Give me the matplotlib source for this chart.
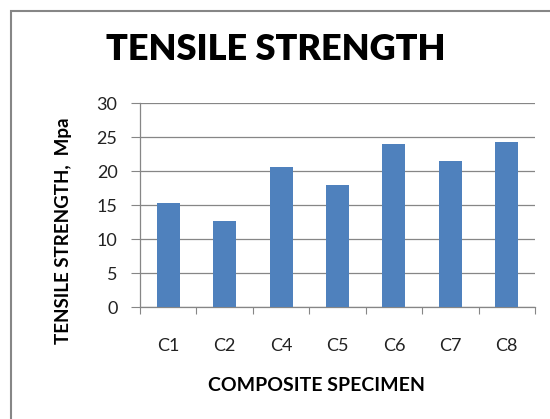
import matplotlib.pyplot as plt
from matplotlib.patches import Rectangle

# tensile strength per composite specimen
specimens = ["C1", "C2", "C4", "C5", "C6", "C7", "C8"]
strength = [15.3, 12.6, 20.6, 17.9, 23.9, 21.5, 24.2]
y_ticks = [0, 5, 10, 15, 20, 25, 30]

plt.rcParams['font.family'] = ['Lato', 'DejaVu Sans']
grey = "#868686"

fig = plt.figure(figsize=(5.5, 4.19), dpi=100)
ax = fig.add_axes([140 / 550, 1 - 307 / 419, 395 / 550, 204 / 419])

x = range(len(specimens))
ax.bar(x, strength, width=0.41, color="#4F81BD", zorder=3)

ax.set_xlim(-0.5, len(specimens) - 0.5)
ax.set_ylim(0, 30)
ax.set_yticks(y_ticks)
ax.set_yticklabels([str(v) for v in y_ticks], fontsize=13, color="#222222")
ax.set_xticks(list(x))
ax.set_xticklabels(specimens, fontsize=13, color="#222222")
ax.tick_params(axis="x", length=0, pad=22)
ax.tick_params(axis="y", length=6.2, width=0.8, color=grey, pad=10)

# category separators under the x axis
ax.set_xticks([i - 0.5 for i in range(len(specimens) + 1)], minor=True)
ax.tick_params(axis="x", which="minor", length=5, width=0.8, color=grey)

ax.grid(axis="y", color=grey, linewidth=0.9, zorder=0)
for side in ["top", "right"]:
    ax.spines[side].set_visible(False)
for side in ["left", "bottom"]:
    ax.spines[side].set_color(grey)
    ax.spines[side].set_linewidth(0.9)

fig.text(0.502, 1 - 50 / 419, "TENSILE STRENGTH", ha="center", va="center",
         fontsize=26, fontweight="heavy")
fig.text(317 / 550, 1 - 385 / 419, "COMPOSITE SPECIMEN", ha="center", va="center",
         fontsize=14, fontweight="bold")
fig.text(63 / 550, 1 - 231 / 419, "TENSILE STRENGTH,  Mpa", ha="center", va="center",
         rotation=90, fontsize=13.5, fontweight="bold")

# chart frame
fig.patches.append(Rectangle((11 / 550, -0.1), 1.2, 1 - 11 / 419 + 0.1,
                             transform=fig.transFigure, fill=False,
                             edgecolor=grey, linewidth=1.5))

fig.savefig("out.png", dpi=100)
